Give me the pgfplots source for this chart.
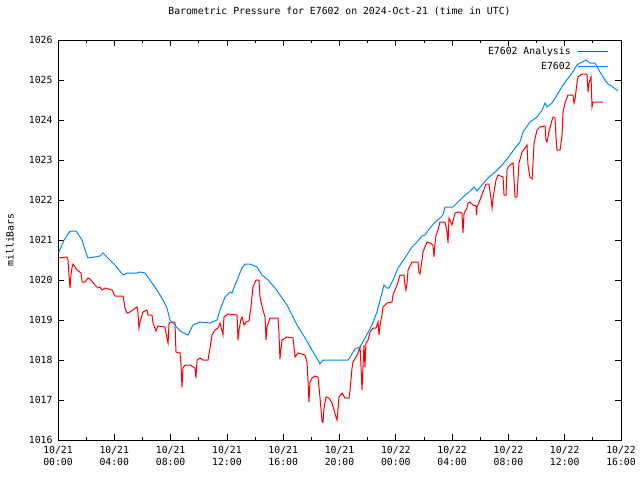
\documentclass[border=0pt]{standalone}
\usepackage{fontspec}
\setmainfont{DejaVu Sans Mono}
\usepackage{pgfplots}
\pgfplotsset{compat=1.18}
\definecolor{cred}{RGB}{255,0,0}
\definecolor{cblue}{RGB}{0,136,255}
\begin{document}
\fontsize{7.35}{9}\selectfont
\begin{tikzpicture}
\begin{axis}[
  scale only axis, width=422.25pt, height=300pt,
  xmin=0, xmax=40, ymin=1016, ymax=1026,
  xtick={0,4,...,40},
  xticklabels={{10/21\\00:00},{10/21\\04:00},{10/21\\08:00},{10/21\\12:00},{10/21\\16:00},{10/21\\20:00},{10/22\\00:00},{10/22\\04:00},{10/22\\08:00},{10/22\\12:00},{10/22\\16:00}},
  minor xtick={2,6,...,38},
  ytick={1016,1017,...,1026},
  yticklabels={1016,1017,1018,1019,1020,1021,1022,1023,1024,1025,1026},
  tick align=inside, major tick length=4.5pt, minor tick length=2.5pt,
  tick style={black, line width=0.6pt},
  axis line style={black, line width=0.75pt},
  xticklabel style={align=center, yshift=-2pt},
  yticklabel style={xshift=-1.5pt},
  font=\fontsize{7.35}{9}\selectfont,
  title={Barometric Pressure for E7602 on 2024-Oct-21 (time in UTC)},
  title style={at={(axis description cs:0.5,1)}, anchor=center, yshift=15.75pt},
  ylabel={milliBars},
  ylabel style={at={(axis description cs:-0.0853,0.5)}, anchor=center},
  legend style={at={(axis description cs:0.978,0.99)}, anchor=north east, draw=none, fill=none, inner sep=0pt, row sep=0.5pt,
    /tikz/every odd column/.append style={column sep=3pt}},
  legend cell align=left,
  legend plot pos=right,
  legend image code/.code={\draw[#1] (0pt,0pt) -- (22.5pt,0pt);},
]
\coordinate (sw) at (rel axis cs:0,0);
\coordinate (ne) at (rel axis cs:1,1);
\addplot[cred, line width=0.75pt, mark=none] coordinates {
(0.00,1020.55) (0.64,1020.575) (0.71,1020.50) (0.78,1020.125) (0.85,1019.80) (0.92,1020.125) (0.99,1020.30) (1.07,1020.40) (1.35,1020.25) (1.63,1020.175) (1.71,1019.95) (1.92,1019.95) (2.13,1020.05) (2.27,1020.025) (2.63,1019.875) (2.84,1019.80) (2.98,1019.825) (3.13,1019.75) (3.34,1019.80) (3.84,1019.75) (4.05,1019.60) (4.62,1019.60) (4.76,1019.30) (4.90,1019.175) (5.12,1019.20) (5.61,1019.325) (5.68,1019.20) (5.75,1018.80) (5.83,1018.95) (5.97,1019.125) (6.04,1019.20) (6.32,1019.25) (6.39,1019.125) (6.68,1019.125) (6.75,1018.925) (6.96,1018.725) (7.10,1018.85) (7.60,1018.825) (7.74,1018.55) (7.82,1018.425) (7.89,1018.925) (8.10,1018.95) (8.31,1018.95) (8.38,1018.20) (8.67,1018.175) (8.74,1017.875) (8.81,1017.325) (8.88,1017.80) (9.02,1017.875) (9.38,1017.875) (9.73,1017.80) (9.80,1017.55) (9.88,1018.00) (10.09,1018.05) (10.30,1018.00) (10.66,1018.00) (10.80,1018.30) (10.94,1018.625) (11.15,1018.75) (11.37,1018.80) (11.51,1018.925) (11.72,1018.625) (11.79,1019.075) (12.08,1019.15) (12.72,1019.125) (12.79,1018.50) (12.86,1018.75) (13.00,1019.025) (13.07,1019.075) (13.22,1018.875) (13.36,1018.95) (13.57,1018.975) (13.71,1019.325) (13.85,1019.825) (14.07,1020.00) (14.28,1020.00) (14.35,1019.575) (14.56,1019.25) (14.71,1019.075) (14.78,1018.50) (14.85,1018.825) (15.06,1019.05) (15.63,1019.05) (15.70,1018.675) (15.77,1018.025) (15.91,1018.50) (16.27,1018.575) (16.70,1018.55) (16.84,1018.075) (17.05,1018.175) (17.55,1018.125) (17.69,1017.95) (17.76,1017.50) (17.83,1016.95) (17.90,1017.45) (18.05,1017.55) (18.26,1017.60) (18.47,1017.575) (18.61,1017.075) (18.76,1016.45) (18.83,1016.45) (18.90,1016.80) (19.04,1017.075) (19.25,1017.05) (19.47,1016.925) (19.61,1016.75) (19.75,1016.575) (19.82,1016.50) (19.89,1016.75) (19.96,1017.075) (20.18,1017.175) (20.39,1017.05) (20.68,1017.05) (20.75,1017.25) (20.89,1017.80) (20.96,1017.95) (21.17,1018.075) (21.31,1018.175) (21.46,1018.325) (21.53,1017.825) (21.60,1017.25) (21.67,1017.825) (21.74,1018.375) (21.81,1017.825) (21.88,1018.425) (22.03,1018.50) (22.17,1018.70) (22.38,1018.80) (22.59,1018.80) (22.74,1018.95) (22.81,1018.625) (22.88,1018.875) (23.02,1019.125) (23.09,1019.325) (23.38,1019.425) (23.73,1019.45) (23.80,1019.625) (24.09,1019.875) (24.30,1020.125) (24.58,1020.125) (24.65,1019.875) (24.72,1019.75) (24.80,1019.925) (24.87,1020.25) (25.15,1020.45) (25.58,1020.45) (25.65,1020.175) (25.72,1020.15) (25.86,1020.50) (25.93,1020.70) (26.22,1020.95) (26.43,1020.925) (26.64,1020.875) (26.71,1020.575) (26.79,1020.925) (26.86,1021.125) (27.00,1021.25) (27.14,1021.45) (27.50,1021.45) (27.64,1021.20) (27.71,1020.925) (27.78,1021.55) (27.99,1021.375) (28.21,1021.675) (28.42,1021.70) (28.70,1021.675) (28.77,1021.175) (28.85,1021.675) (29.06,1021.80) (29.13,1021.925) (29.27,1021.95) (29.49,1021.875) (29.70,1021.85) (29.73,1021.625) (29.77,1021.825) (29.98,1022.00) (30.19,1022.20) (30.41,1022.40) (30.62,1022.40) (30.76,1022.05) (30.84,1021.80) (30.91,1022.05) (31.12,1022.50) (31.26,1022.625) (31.62,1022.575) (31.69,1022.125) (31.83,1022.125) (31.90,1022.75) (31.97,1022.825) (32.11,1022.875) (32.33,1022.925) (32.47,1022.075) (32.61,1022.075) (32.75,1022.925) (32.97,1023.20) (33.32,1023.375) (33.39,1022.875) (33.53,1022.575) (33.68,1022.525) (33.75,1022.925) (33.82,1023.425) (34.03,1023.75) (34.24,1023.825) (34.60,1023.85) (34.67,1023.50) (34.74,1023.45) (34.88,1023.70) (35.10,1024.00) (35.17,1024.075) (35.31,1024.05) (35.38,1023.575) (35.45,1023.25) (35.67,1023.25) (35.81,1023.625) (35.88,1024.20) (36.02,1024.425) (36.23,1024.625) (36.59,1024.625) (36.66,1024.425) (36.73,1024.50) (36.87,1024.925) (36.94,1025.075) (37.23,1025.15) (37.58,1025.15) (37.66,1024.70) (37.73,1024.925) (37.87,1025.075) (37.94,1024.325) (38.01,1024.45) (38.08,1024.45) (38.72,1024.45)
};
\addlegendentry{\makebox[63pt][r]{E7602 Analysis}}
\addplot[cblue, line width=0.75pt, mark=none] coordinates {
(0.00,1020.70) (0.07,1020.70) (0.43,1021.00) (0.85,1021.225) (1.28,1021.225) (1.71,1021.00) (1.92,1020.75) (2.13,1020.55) (2.56,1020.575) (2.98,1020.60) (3.20,1020.675) (3.55,1020.55) (4.05,1020.375) (4.62,1020.125) (4.90,1020.175) (5.61,1020.175) (5.83,1020.20) (6.18,1020.175) (6.54,1020.00) (7.03,1019.75) (7.46,1019.50) (7.74,1019.30) (7.96,1019.00) (8.17,1018.925) (8.67,1018.725) (9.24,1018.625) (9.59,1018.875) (10.09,1018.95) (10.80,1018.925) (11.30,1019.00) (11.51,1019.25) (11.87,1019.575) (12.22,1019.70) (12.36,1019.675) (12.58,1019.875) (13.07,1020.30) (13.29,1020.40) (13.64,1020.40) (14.14,1020.325) (14.49,1020.125) (14.92,1020.00) (15.42,1019.80) (15.77,1019.625) (16.27,1019.375) (16.63,1019.125) (16.98,1018.875) (17.34,1018.675) (17.76,1018.425) (18.12,1018.20) (18.47,1018.00) (18.61,1017.90) (18.83,1018.00) (20.60,1018.00) (20.75,1018.075) (21.10,1018.275) (21.46,1018.325) (21.81,1018.55) (22.31,1018.875) (22.66,1019.20) (23.02,1019.675) (23.16,1019.875) (23.38,1019.80) (23.52,1019.80) (23.80,1020.00) (24.16,1020.30) (24.65,1020.55) (25.15,1020.825) (25.51,1020.95) (25.86,1021.10) (26.07,1021.125) (26.43,1021.30) (26.79,1021.45) (27.14,1021.55) (27.35,1021.625) (27.50,1021.825) (28.06,1021.825) (28.56,1022.00) (28.92,1022.125) (29.13,1022.175) (29.56,1022.325) (29.77,1022.225) (30.12,1022.375) (30.55,1022.55) (31.05,1022.70) (31.55,1022.875) (31.97,1023.05) (32.47,1023.30) (32.82,1023.45) (33.04,1023.70) (33.53,1023.95) (34.03,1024.075) (34.39,1024.25) (34.60,1024.425) (34.74,1024.325) (35.10,1024.425) (35.45,1024.625) (35.88,1024.875) (36.52,1025.175) (36.87,1025.375) (37.23,1025.45) (37.51,1025.50) (37.80,1025.425) (38.15,1025.425) (38.51,1025.20) (38.86,1025.00) (39.08,1024.90) (39.43,1024.825) (39.79,1024.725)
};
\addlegendentry{\makebox[63pt][r]{E7602}}
\end{axis}
\pgfresetboundingbox
\path[use as bounding box] ([shift={(-43.5pt,-30pt)}]sw) rectangle ([shift={(14.25pt,30pt)}]ne);
\end{tikzpicture}
\end{document}
